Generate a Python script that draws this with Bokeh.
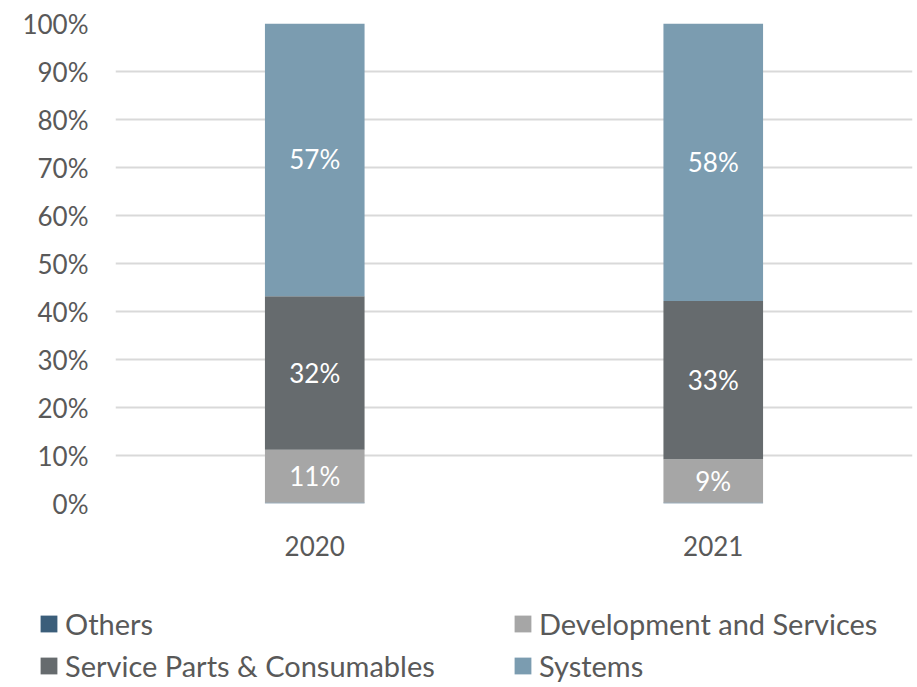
from bokeh.plotting import figure
from bokeh.models import ColumnDataSource, Legend, LegendItem, LabelSet, FactorRange, Range1d
from bokeh.core.properties import value
from bokeh.embed import file_html
from bokeh.resources import INLINE

years = ["2020", "2021"]
others = [0.2, 0.2]
dev_services = [11, 9]
service_parts = [32, 33]
systems = [57, 58]
series_names = ["Others", "Development and Services", "Service Parts & Consumables", "Systems"]
colors = ["#3B5E7A", "#A6A6A6", "#666B6E", "#7B9CB0"]
y_ticks = list(range(0, 101, 10))

FONT = "Lato"
TXT = "#595959"

p = figure(x_range=FactorRange(*years), y_range=(0, 100), width=914, height=580,
           output_backend="svg", toolbar_location=None,
           min_border_left=115, min_border_right=2, min_border_top=23, min_border_bottom=77)
p.outline_line_color = None

# legend-only figure below the chart (its renderers are hidden, only the legend shows)
lf = figure(x_range=FactorRange(*years), y_range=Range1d(0, 100), width=914, height=105,
            output_backend="svg", toolbar_location=None,
            x_axis_location=None, y_axis_location=None, min_border=0)
lf.outline_line_color = None
lf.xgrid.grid_line_color = None
lf.ygrid.grid_line_color = None

series = [others, dev_services, service_parts, systems]
bottom = [0.0, 0.0]
legend_renderers = []
label_x, label_y, label_t = [], [], []
for name, vals, col in zip(series_names, series, colors):
    top = [b + v for b, v in zip(bottom, vals)]
    src = ColumnDataSource(dict(x=years, bottom=bottom, top=top))
    p.vbar(x="x", bottom="bottom", top="top", width=0.25, source=src,
           fill_color=col, line_color=None)
    lr = lf.vbar(x="x", bottom="bottom", top="top", width=0.25, source=src,
                 fill_color=col, line_color=None)
    lr.visible = False
    legend_renderers.append((name, lr))
    if name != "Others":
        for yr, b, t, v in zip(years, bottom, top, vals):
            label_x.append(yr)
            label_y.append((b + t) / 2)
            label_t.append(f"{v}%")
    bottom = top

lsrc = ColumnDataSource(dict(x=label_x, y=label_y, t=label_t))
labels = LabelSet(x="x", y="y", text="t", source=lsrc, text_color="white",
                  text_font=value(FONT), text_font_size="26px", text_align="center",
                  text_baseline="middle")
p.add_layout(labels)

p.yaxis.ticker = y_ticks
p.yaxis.major_label_overrides = {t: f"{t}%" for t in y_ticks}
for ax in (p.xaxis, p.yaxis):
    ax.axis_line_color = None
    ax.major_tick_line_color = None
    ax.minor_tick_line_color = None
    ax.major_label_text_font = FONT
    ax.major_label_text_font_size = "26px"
    ax.major_label_text_color = TXT
p.yaxis.major_label_standoff = 21
p.xaxis.major_label_standoff = 26
p.xgrid.grid_line_color = None
p.ygrid.grid_line_color = "#D9D9D9"
p.ygrid.grid_line_width = 2

# two legend columns: (Others, Service Parts & Consumables) and (Development and Services, Systems)
columns = [([0, 2], (38, 2)), ([1, 3], (512, 2))]
for idx, loc in columns:
    lg = Legend(items=[LegendItem(label=legend_renderers[i][0], renderers=[legend_renderers[i][1]])
                       for i in idx],
                location=loc, border_line_color=None,
                background_fill_alpha=0, label_text_font=FONT,
                label_text_font_size="29px", label_text_color=TXT,
                glyph_width=21, glyph_height=21, label_standoff=6,
                label_height=32, spacing=7, padding=0, margin=0,
                inactive_fill_alpha=0)
    lf.add_layout(lg)

open("out.html", "w").write(file_html([p, lf], INLINE))
